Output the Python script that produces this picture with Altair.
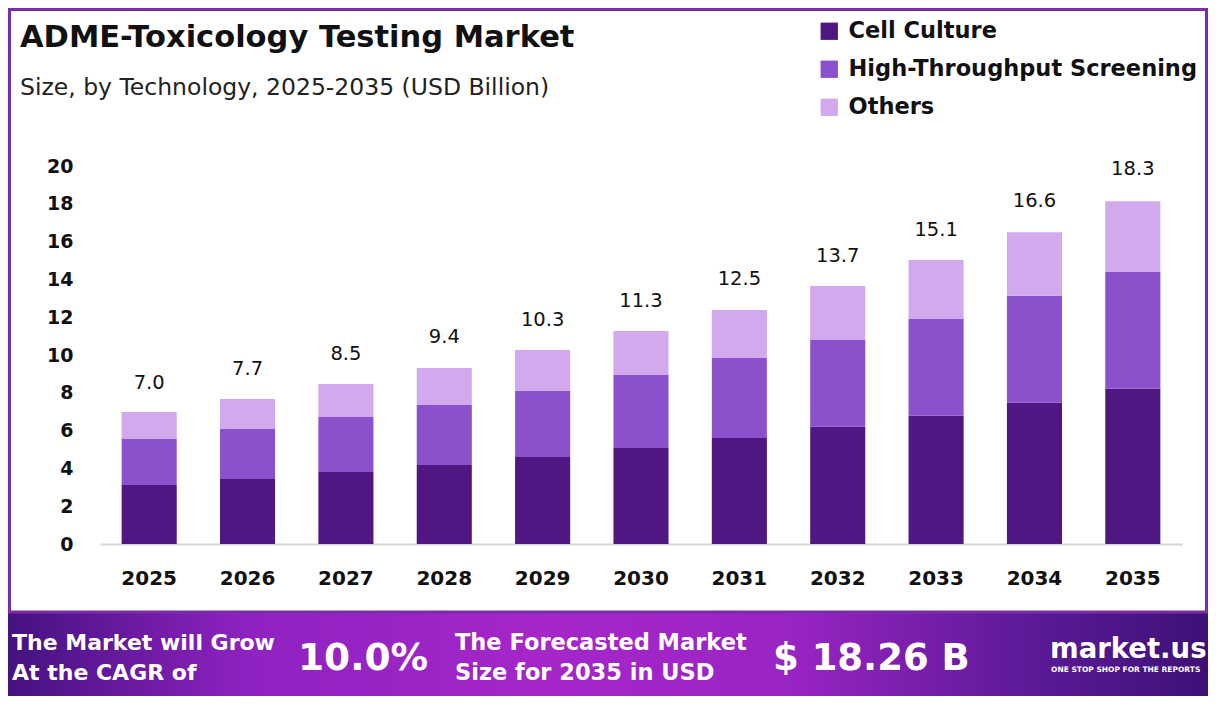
import altair as alt
import pandas as pd

years = ["2025", "2026", "2027", "2028", "2029", "2030", "2031", "2032", "2033", "2034", "2035"]
cell_culture = [3.12, 3.44, 3.81, 4.18, 4.60, 5.08, 5.61, 6.20, 6.79, 7.48, 8.22]
high_throughput = [2.44, 2.64, 2.91, 3.17, 3.50, 3.86, 4.23, 4.59, 5.11, 5.66, 6.17]
others = [1.42, 1.59, 1.75, 1.96, 2.16, 2.33, 2.54, 2.86, 3.13, 3.36, 3.74]
totals = [7.0, 7.7, 8.5, 9.4, 10.3, 11.3, 12.5, 13.7, 15.1, 16.6, 18.3]
segments = ["Cell Culture", "High-Throughput Screening", "Others"]
colors = ["#501682", "#8b50cc", "#d2a9ec"]
y_ticks = [0, 2, 4, 6, 8, 10, 12, 14, 16, 18, 20]

title_text = "ADME-Toxicology Testing Market"
subtitle_text = "Size, by Technology, 2025-2035 (USD Billion)"
banner_left = ["The Market will Grow", "At the CAGR of"]
cagr_text = "10.0%"
banner_mid = ["The Forecasted Market", "Size for 2035 in USD"]
value_text = "$ 18.26 B"
brand_text = "market.us"
tagline_text = "ONE STOP SHOP FOR THE REPORTS"

FONT = "DejaVu Sans"

rows = []
for i, y in enumerate(years):
    for k, (seg, vals) in enumerate(zip(segments, [cell_culture, high_throughput, others])):
        rows.append({"year": y, "segment": seg, "value": vals[i], "order": k})
df = pd.DataFrame(rows)
tot_df = pd.DataFrame({"year": years, "total": totals, "label": [f"{t:.1f}" for t in totals]})

one = pd.DataFrame({"a": [0]})

# plot-area relative helpers (reference pixel -> plot coordinate)
def rx(X):
    return X - 100

def ry(Y):
    return Y - 166

x_scale = alt.Scale(paddingInner=0.44, paddingOuter=0.22)
x_axis = alt.Axis(labelAngle=0, labelFontSize=20, labelFontWeight="bold",
                  labelColor="#111111", labelFont=FONT, ticks=False,
                  labelPadding=24, domainColor="#d6d6d6", domainWidth=2)
y_scale = alt.Scale(domain=[0, 20], nice=False)
y_axis = alt.Axis(values=y_ticks, grid=False, domain=False, ticks=False,
                  labelFontSize=19, labelFontWeight="bold", labelColor="#111111",
                  labelFont=FONT, labelPadding=27, labelOverlap=False, labelBound=False)

bars = alt.Chart(df).mark_bar().encode(
    x=alt.X("year:N", title=None, scale=x_scale, axis=x_axis),
    y=alt.Y("value:Q", title=None, stack="zero", scale=y_scale, axis=y_axis),
    color=alt.Color("segment:N", scale=alt.Scale(domain=segments, range=colors),
                    legend=alt.Legend(title=None, orient="none", legendX=rx(818), legendY=ry(20),
                                      symbolType="square", symbolSize=300, symbolStrokeWidth=0,
                                      labelFontSize=22.5, labelFontWeight=600, labelFont=FONT,
                                      labelColor="#111111", labelOffset=8, rowPadding=15,
                                      labelLimit=0, padding=0)),
    order=alt.Order("order:Q", sort="ascending"),
)

labels = alt.Chart(tot_df).mark_text(baseline="bottom", dy=-19, fontSize=19.5,
                                     fontWeight=500, font=FONT, color="#111111").encode(
    x=alt.X("year:N", title=None, scale=x_scale, axis=x_axis),
    y=alt.Y("total:Q", title=None, scale=y_scale, axis=y_axis),
    text="label:N",
)

frame = alt.Chart(one).mark_rect(fill=None, stroke="#7a2ea6", strokeWidth=3).encode(
    x=alt.value(-92 + 1.5), x2=alt.value(1108 - 1.5), y=alt.value(-158 + 1.5), y2=alt.value(ry(612)))

grad = alt.LinearGradient(
    gradient="linear",
    stops=[alt.GradientStop(color="#45127f", offset=0),
           alt.GradientStop(color="#8e22c0", offset=0.2),
           alt.GradientStop(color="#a526c9", offset=0.45),
           alt.GradientStop(color="#9a24c4", offset=0.65),
           alt.GradientStop(color="#5c1a98", offset=0.85),
           alt.GradientStop(color="#3e1176", offset=1)],
    x1=0, x2=1, y1=0, y2=0)

banner = alt.Chart(one).mark_rect(fill=grad).encode(
    x=alt.value(-92), x2=alt.value(1108), y=alt.value(ry(611)), y2=alt.value(ry(698)))

def txt(s, X, Y, size, weight="bold", color="#ffffff", baseline="middle", align="left"):
    return alt.Chart(one).mark_text(text=s, fontSize=size, fontWeight=weight, font=FONT,
                                    color=color, baseline=baseline, align=align).encode(
        x=alt.value(rx(X)), y=alt.value(ry(Y)))

texts = [
    txt(title_text, 20, 47, 30.5, "bold", "#111111", "alphabetic"),
    txt(subtitle_text, 20, 95, 23.5, 400, "#222222", "alphabetic"),
    txt(banner_left[0], 12, 643, 22),
    txt(banner_left[1], 12, 673, 22),
    txt(cagr_text, 298, 659, 37.5),
    txt(banner_mid[0], 455, 643, 22.5),
    txt(banner_mid[1], 455, 673, 22.5),
    txt(value_text, 773, 659, 37),
    txt(brand_text, 1050, 650, 27.5),
    txt(tagline_text, 1051, 670, 7.5),
]

chart = alt.layer(banner, frame, bars, labels, *texts).properties(
    width=1082, height=378,
    padding={"left": 92, "top": 158, "right": 26, "bottom": 152},
    autosize=alt.AutoSizeParams(type="none"),
    background="#ffffff",
).configure_view(stroke=None).configure_axisY(labelOverlap=False)

chart.save("out.html", embed_options={"renderer": "svg", "actions": False})
